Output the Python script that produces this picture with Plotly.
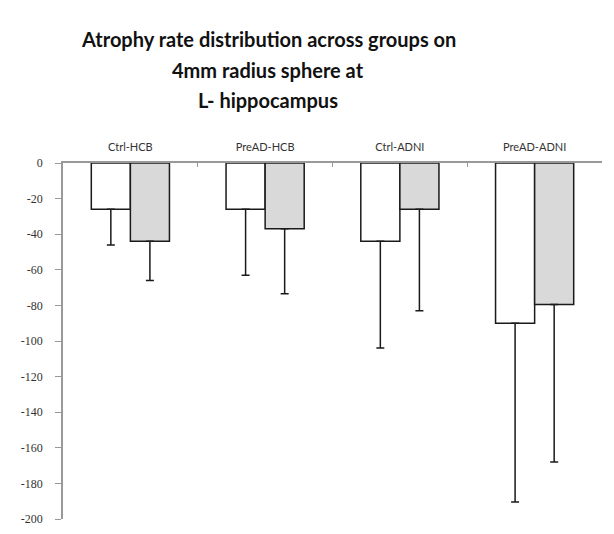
import plotly.graph_objects as go

categories = ["Ctrl-HCB", "PreAD-HCB", "Ctrl-ADNI", "PreAD-ADNI"]
series1_values = [-26, -26, -44, -90]
series1_err = [20, 37, 60, 100.5]
series2_values = [-44, -37, -26, -79.5]
series2_err = [22, 36.5, 57, 88.5]
y_ticks = [0, -20, -40, -60, -80, -100, -120, -140, -160, -180, -200]
title_lines = ["Atrophy rate distribution across groups on", "4mm radius sphere at", "L- hippocampus"]

W, H = 614, 534
ML, MR, MT, MB = 63, 12, 163, 15
PW, PH = W - ML - MR, H - MT - MB

def px_x(px):
    return (px - ML) / PW

def px_y(py):
    return (H - MB - py) / PH

fig = go.Figure()
fig.add_trace(go.Bar(
    x=categories, y=series1_values,
    marker=dict(color="white", line=dict(color="#1a1a1a", width=1.5)),
    error_y=dict(type="data", symmetric=False, array=[0] * 4, arrayminus=series1_err,
                 color="#1a1a1a", thickness=1.5, width=4),
))
fig.add_trace(go.Bar(
    x=categories, y=series2_values,
    marker=dict(color="#d9d9d9", line=dict(color="#1a1a1a", width=1.5)),
    error_y=dict(type="data", symmetric=False, array=[0] * 4, arrayminus=series2_err,
                 color="#1a1a1a", thickness=1.5, width=4),
))

annotations = []
for line, py in zip(title_lines, [39, 70, 100]):
    annotations.append(dict(
        text=line, xref="paper", yref="paper", x=px_x(268), y=px_y(py),
        xanchor="center", yanchor="middle", showarrow=False,
        font=dict(family="Lato", size=20, color="#111111", weight="bold"),
    ))

fig.update_layout(
    width=W, height=H,
    margin=dict(l=ML, r=MR, t=MT, b=MB, pad=0, autoexpand=False),
    paper_bgcolor="white", plot_bgcolor="white",
    showlegend=False,
    barmode="group", bargap=0.42, bargroupgap=0,
    annotations=annotations,
    xaxis=dict(
        side="top", showline=True, linecolor="#999999", linewidth=1.5,
        ticks="inside", ticklen=4, tickcolor="#999999", tickson="boundaries",
        tickfont=dict(family="Lato", size=11, color="#333333"),
        ticklabelstandoff=6,
        showgrid=False, zeroline=False, automargin=False,
    ),
    yaxis=dict(
        range=[-200, 0], tickvals=y_ticks, ticktext=[str(v) for v in y_ticks],
        showline=True, linecolor="#999999", linewidth=1.5,
        ticks="outside", ticklen=6, tickcolor="#999999",
        tickfont=dict(family="Liberation Serif", size=12, color="#333333"),
        ticklabelstandoff=10,
        showgrid=False, zeroline=False, automargin=False,
    ),
)

fig.write_html("out.html")
